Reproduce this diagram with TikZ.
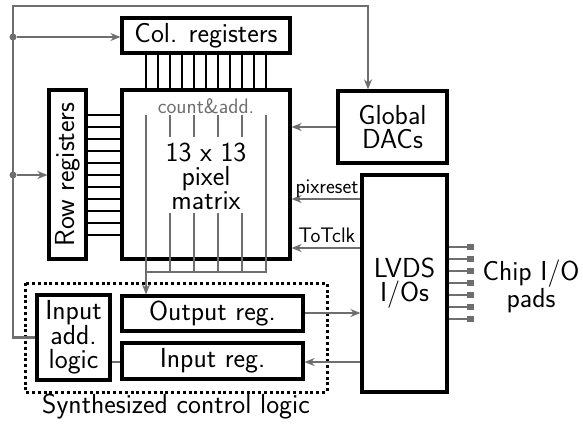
\documentclass[tikz,border=0pt]{standalone}
\usetikzlibrary{arrows.meta}
\definecolor{graycol}{RGB}{110,110,110}
\begin{document}
\sffamily
\begin{tikzpicture}[x=1pt,y=-1pt,
  box/.style={draw=black,line width=3.2pt,fill=white,inner sep=0pt,align=center,
    font=\fontsize{27.5}{24}\selectfont},
  lbl/.style={inner sep=0pt,align=center,font=\fontsize{27.5}{24}\selectfont},
  small/.style={inner sep=0pt,font=\fontsize{21}{22}\selectfont},
  gl/.style={draw=graycol,line width=2.6pt},
  arr/.style={gl,-{Stealth[length=10pt,width=8pt]}},
  wire/.style={draw=black,line width=1.7pt},
  dot/.style={circle,fill=graycol,inner sep=0pt,minimum size=7pt}]
\useasboundingbox (0,0) rectangle (583,423);
% boxes
\node[box,minimum width=168pt,minimum height=35pt] (col) at (206,35.5) {Col. registers};
\node[box,minimum width=168pt,minimum height=169pt] (mat) at (206,174.5) {};
\node[box,minimum width=37pt,minimum height=169pt] (row) at (67.5,174.5) {};
\node[lbl,rotate=90] (rowtxt) at (row.center) {Row registers};
\node[box,minimum width=109pt,minimum height=72pt] (dac) at (392.5,127) {Global\\DACs};
\node[box,minimum width=85pt,minimum height=217pt] (lvds) at (404.5,283.5) {LVDS\\I/Os};
\node[box,minimum width=73pt,minimum height=85pt] (ial) at (73.5,337.5) {Input\\add.\\logic};
\node[box,minimum width=181pt,minimum height=35pt] (outr) at (212.5,313.5) {Output reg.};
\node[box,minimum width=181pt,minimum height=36pt] (inr) at (212.5,361) {Input reg.};
\draw[line width=3pt,dash pattern=on 3pt off 2.8pt] (25,283) rectangle (327,392);
\node[lbl] (synth) at (176,407) {Synthesized control logic};
\node[lbl] (chip) at (531,286) {Chip I/O\\pads};
% matrix text
\node[small,text=graycol] (cnt) at (206,106) {count\&add.};
\node[lbl] (mtxt) at (206,176) {13 x 13\\pixel\\matrix};
% register wires
\foreach \i in {0,...,10} {
  \draw[wire] (col.south -| {146+12*\i},0) -- (mat.north -| {146+12*\i},0);
  \draw[wire] (row.east |- 0,{115+12*\i}) -- (mat.west |- 0,{115+12*\i});
}
% gray matrix lines
\foreach \xx in {170,194,218,242} {
  \draw[gl] (\xx,115) -- (\xx,137);
  \draw[gl] (\xx,213) -- (\xx,272);
}
\draw[gl] (266,115) -- (266,272) -- (146,272);
\coordinate (mtop) at (146,115);
\draw[arr] (mtop) -- (outr.north -| mtop);
% feedback path
\coordinate (c1) at (13,6);
\coordinate (c2) at (368,6);
\draw[arr] (ial.west) -| (c1) -- (c2) -- (dac.north -| c2);
\node[dot] (d1) at (13,37) {};
\node[dot] (d2) at (13,175) {};
\draw[arr] (d1) -- (col.west |- d1);
\draw[arr] (d2) -- (row.west |- d2);
% dac to matrix
\draw[arr] (dac.west) -- (mat.east |- dac.west);
% lvds to matrix
\coordinate (p1) at (362,199);
\coordinate (p2) at (362,248);
\draw[arr] (lvds.west |- p1) -- (mat.east |- p1);
\draw[arr] (lvds.west |- p2) -- (mat.east |- p2);
\node[small,anchor=base] (pix) at (327,193) {pixreset};
\node[small,anchor=base] (tot) at (327,242) {ToTclk};
% out/in regs
\coordinate (o1) at (303,313);
\coordinate (i1) at (303,362);
\draw[arr] (outr.east |- o1) -- (lvds.west |- o1);
\draw[arr] (lvds.west |- i1) -- (inr.east |- i1);
\draw[gl] (ial.east |- i1) -- (inr.west |- i1);
% pads
\foreach \yy in {247,259,271,283,295,307,319} {
  \draw[gl] (lvds.east |- 0,\yy) -- (467,\yy);
  \fill[graycol] (467,{\yy-3.2}) rectangle (474,{\yy+3.2});
}
\end{tikzpicture}
\end{document}
